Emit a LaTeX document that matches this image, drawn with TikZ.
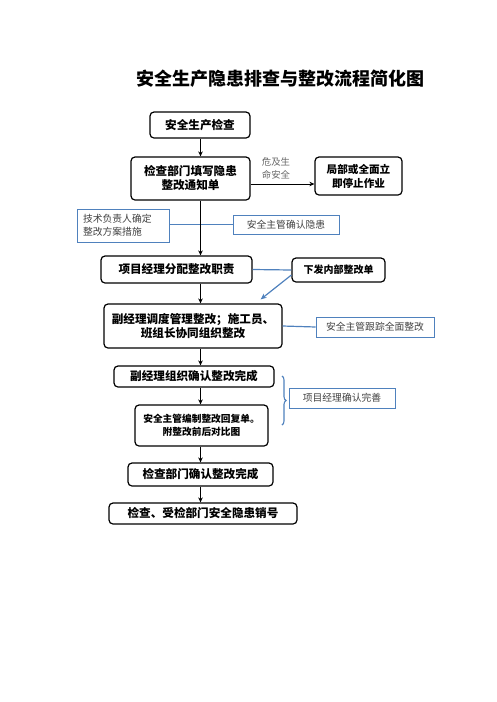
\documentclass[tikz,border=0pt]{standalone}
\usepackage{fontspec}
\newfontfamily\cjk{Noto Sans CJK SC}
\usetikzlibrary{arrows.meta,decorations.pathreplacing}
\definecolor{noteblue}{HTML}{4F81BD}
\begin{document}
\begin{tikzpicture}[x=1pt, y=-1pt,
    stepbox/.style={draw, rounded corners=4pt, line width=1.2pt, inner sep=0pt, align=center, font=\cjk\bfseries\fontsize{11.6}{14}\selectfont},
    notebox/.style={draw=noteblue, line width=0.9pt, inner sep=0pt, align=center, text=black!75, font=\cjk\fontsize{9.8}{13.5}\selectfont},
    flow/.style={-{Stealth[length=5pt, width=4.5pt]}, line width=1pt},
    link/.style={draw=noteblue, line width=1.2pt}]
    \useasboundingbox (0,0) rectangle (496,702);
    \coordinate (axis) at (200.5,0);
    \coordinate (risk) at (0,184);
    \node[font=\cjk\bfseries\fontsize{18}{20}\selectfont] (title) at (280,79) {安全生产隐患排查与整改流程简化图};
    \node[stepbox, minimum width=100pt, minimum height=26pt] (check) at (200,125) {安全生产检查};
    \node[stepbox, minimum width=119pt, minimum height=43pt] (notice) at (190.5,178.5) {检查部门填写隐患\\整改通知单};
    \node[stepbox, minimum width=87pt, minimum height=38pt, font=\cjk\bfseries\fontsize{10.6}{14}\selectfont] (stop) at (358.5,176) {局部或全面立\\即停止作业};
    \node[text=black!60, align=center, font=\cjk\fontsize{9.4}{13}\selectfont] (danger) at (276,168) {危及生\\命安全};
    \node[notebox, minimum height=33pt, text width=80pt, inner xsep=6pt, align=left] (tech) at (123,225.5) {技术负责人确定\\整改方案措施};
    \node[notebox, minimum width=106pt, minimum height=19pt] (confirm) at (286,224.5) {安全主管确认隐患};
    \node[stepbox, minimum width=151pt, minimum height=27pt] (assign) at (176.5,269.5) {项目经理分配整改职责};
    \node[stepbox, minimum width=93pt, minimum height=24pt, font=\cjk\bfseries\fontsize{10}{14}\selectfont] (issue) at (338.5,270) {下发内部整改单};
    \node[stepbox, minimum width=178pt, minimum height=44pt] (dispatch) at (193,326) {副经理调度管理整改；施工员、\\班组长协同组织整改};
    \node[notebox, minimum width=118pt, minimum height=20pt] (track) at (375,327) {安全主管跟踪全面整改};
    \node[stepbox, minimum width=160pt, minimum height=21pt] (done) at (194,376.5) {副经理组织确认整改完成};
    \node[notebox, minimum width=106pt, minimum height=20pt] (pmok) at (342,398) {项目经理确认完善};
    \node[stepbox, minimum width=133pt, minimum height=41pt, font=\cjk\bfseries\fontsize{9.7}{12.5}\selectfont] (reply) at (201.5,425.5) {安全主管编制整改回复单。\\附整改前后对比图};
    \node[stepbox, minimum width=145pt, minimum height=23pt] (deptok) at (200.5,474.5) {检查部门确认整改完成};
    \node[stepbox, minimum width=188pt, minimum height=21pt] (close) at (203,513.5) {检查、受检部门安全隐患销号};
    \draw[link] (confirm.west -| tech.east) -- (confirm.west);
    \draw[link] (assign.east) -- (issue.west);
    \draw[link, -{Stealth[length=6pt, width=5pt]}] ([yshift=-5pt]issue.west) -- ([xshift=-22pt, yshift=4pt]dispatch.north east);
    \draw[link] (dispatch.east) -- (track.west);
    \draw[noteblue, line width=1.1pt, decorate, decoration={brace, amplitude=4pt}] (282,376) -- (282,425);
    \draw[flow] (check.south -| axis) -- (notice.north -| axis);
    \draw[flow] (notice.east |- risk) -- (stop.west |- risk);
    \draw[flow, line width=1.3pt] (notice.south -| axis) -- (assign.north -| axis);
    \draw[flow] (assign.south -| axis) -- (dispatch.north -| axis);
    \draw[flow] (dispatch.south -| axis) -- (done.north -| axis);
    \draw[flow] (done.south -| axis) -- (reply.north -| axis);
    \draw[flow] (reply.south -| axis) -- (deptok.north -| axis);
    \draw[flow] (deptok.south -| axis) -- (close.north -| axis);
\end{tikzpicture}
\end{document}
